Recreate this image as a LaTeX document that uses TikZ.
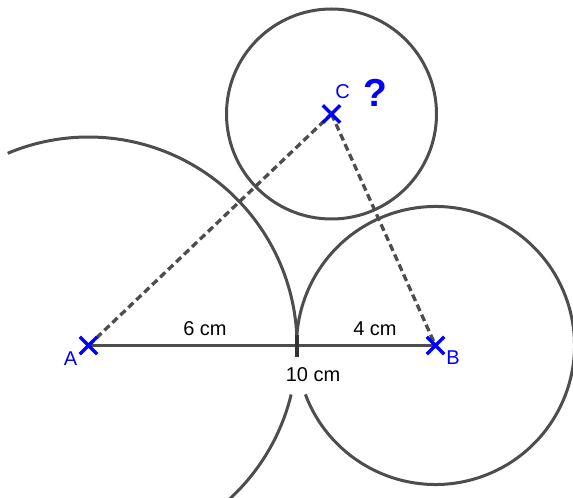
\documentclass[tikz,border=0pt]{standalone}
\usepackage{fontspec}
\setmainfont{Liberation Sans}
\usepackage{tikz}
\usetikzlibrary{shapes.misc}
\definecolor{gristrait}{HTML}{4D4D4D}
\definecolor{bleupoint}{HTML}{0000FF}

\begin{document}
\begin{tikzpicture}[x=1pt, y=1pt,
    font=\fontsize{20}{23}\selectfont,
    cercle/.style={draw=gristrait, line width=3pt},
    trait/.style={draw=gristrait, line width=3.3pt},
    pointille/.style={draw=gristrait, line width=3.3pt, dash pattern=on 7pt off 4pt},
    croix/.style={cross out, draw=bleupoint, line width=3.4pt, minimum size=14pt,
      inner sep=0pt},
    lettre/.style={text=bleupoint, anchor=base, inner sep=0pt},
    mesure/.style={anchor=base, inner sep=0pt}
  ]
  \clip (0,0) rectangle (573,498);
  \coordinate (A) at (88.5,152.5);
  \coordinate (B) at (435.5,152.5);
  \coordinate (C) at (331.5,384);
  \coordinate (T) at (297,152.5);
  % arcs et cercles
  \draw[cercle] (A) ++(112.8:208.5) arc[start angle=112.8, end angle=0, radius=208.5];
  \draw[cercle] (A) ++(-13.6:208.5) arc[start angle=-13.6, end angle=-70, radius=208.5];
  \draw[cercle] (B) ++(200.6:139) arc[start angle=200.6, end angle=540, radius=139];
  \draw[cercle] (C) circle[radius=105];
  % segments
  \draw[trait] (A) -- (B);
  \draw[pointille] (A) -- (C);
  \draw[pointille] (C) -- (B);
  \draw[draw=black!80, line width=3.8pt] ([yshift=10pt]T) -- ([yshift=-12pt]T);
  % points
  \node[croix] (xA) at (A) {};
  \node[croix] (xB) at (B) {};
  \node[croix] (xC) at (C) {};
  \node[lettre] (lA) at (70.5,132) {A};
  \node[lettre] (lB) at (453,133.5) {B};
  \node[lettre] (lC) at (342.5,399) {C};
  \node[lettre, font=\fontsize{39}{40}\selectfont\bfseries] (q) at (375.3,391.3) {?};
  % longueurs
  \node[mesure] (m6) at (205,162) {6 cm};
  \node[mesure] (m4) at (375,162) {4 cm};
  \node[mesure] (m10) at (313,116.3) {10 cm};
\end{tikzpicture}
\end{document}
